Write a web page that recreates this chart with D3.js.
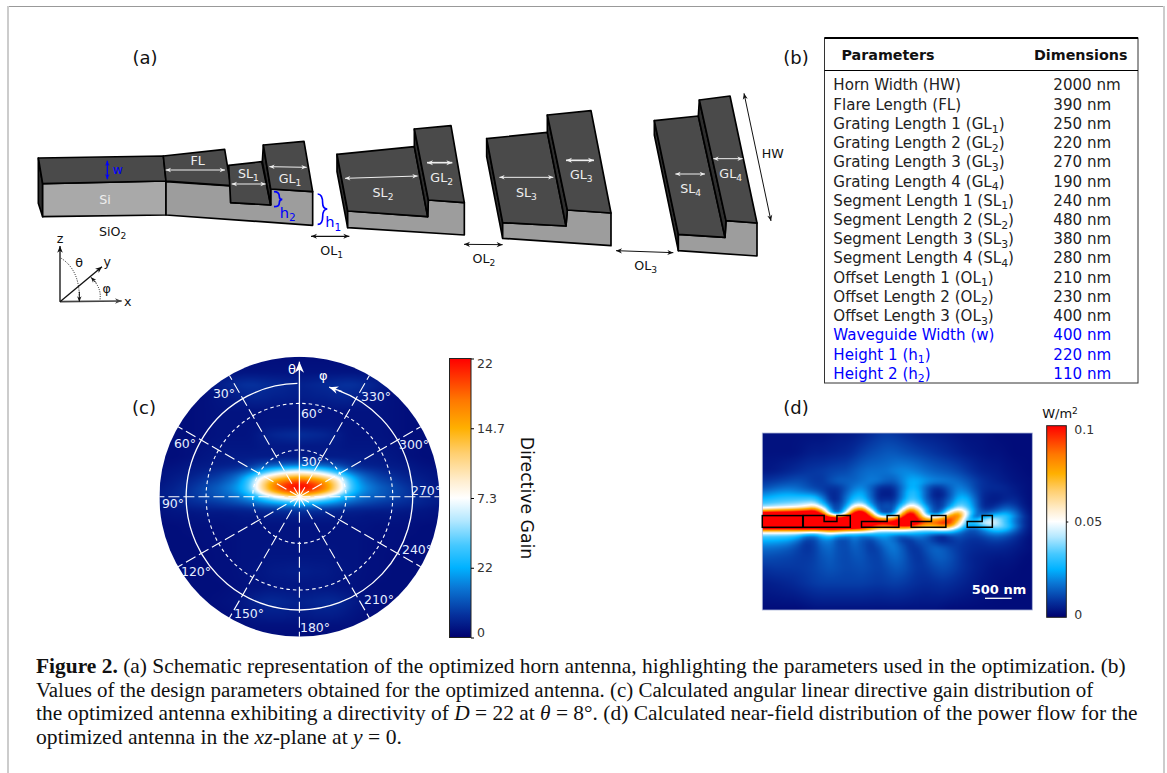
<!DOCTYPE html>
<html lang="en">
<head>
  <meta charset="UTF-8">
  <title>Figure 2</title>
  <script src="https://d3js.org/d3.v7.min.js"></script>
  <style>
    html, body { margin: 0; background: #fff; }
    svg { display: block; font-family: "DejaVu Sans", sans-serif; }
  </style>
</head>
<body>
  <svg width="1167" height="773"></svg>
  <script>
    // table (b)
    const paramNames = ["Horn Width (HW)", "Flare Length (FL)", "Grating Length 1 (GL_1)", "Grating Length 2 (GL_2)",
      "Grating Length 3 (GL_3)", "Grating Length 4 (GL_4)", "Segment Length 1 (SL_1)", "Segment Length 2 (SL_2)",
      "Segment Length 3 (SL_3)", "Segment Length 4 (SL_4)", "Offset Length 1 (OL_1)", "Offset Length 2 (OL_2)",
      "Offset Length 3 (OL_3)", "Waveguide Width (w)", "Height 1 (h_1)", "Height 2 (h_2)"];
    const paramValues = [2000, 390, 250, 220, 270, 190, 240, 480, 380, 280, 210, 230, 400, 400, 220, 110];
    const blueFrom = 13;

    // colour map, shared by both colour bars
    const mapStops = [0, .08, .18, .25, .33, .42, .5, .56, .66, .75, .85, .92, 1];
    const mapColors = ["#00006e", "#05309c", "#0a78d6", "#00b2ff", "#45c8ff", "#b4e8ff", "#ffffff", "#ffeed0",
      "#ffcf70", "#ffb000", "#ff7800", "#ff4000", "#ff0000"];

    const gainTicks = [0, .25, .5, .75, 1];
    const gainTickLabels = ["0", "22", "7.3", "14.7", "22"];
    const gainDy = [-140, -125, -112, -100, -85, -72, -62, -50, -40, -34, -30, -26, -22, -18, -14, -10, -6, -2, 2, 6, 10, 14, 20, 30, 45, 60, 75, 90, 105, 118, 130, 140];
    const gainDx = [0, 8, 16, 24, 32, 40, 46, 52, 58, 66, 80, 95, 110, 125, 140];
    const gainRows = [
      [.5, .5, .5, .5, .5, .5, .5, .5, .5, .5, .5, .5, .5, .5, .5],
      [.7, .7, .7, .7, .7, .7, .7, .7, .7, .7, .7, .7, .6, .5, .5],
      [1.2, 1.3, 1.4, 1.5, 1.6, 1.7, 1.8, 1.8, 1.7, 1.5, 1.1, .7, .5, .5, .5],
      [1.1, 1.1, 1.2, 1.2, 1.3, 1.4, 1.4, 1.3, 1.2, 1, .8, .6, .5, .5, .5],
      [.7, .7, .7, .7, .7, .7, .7, .7, .7, .7, .7, .6, .5, .5, .5],
      [.8, .8, .8, .8, .8, .7, .7, .7, .7, .7, .7, .6, .5, .5, .5],
      [1.7, 1.6, 1.5, 1.4, 1.2, 1, .8, .7, .7, .7, .7, .6, .5, .5, .5],
      [.9, .9, .9, .9, .9, .9, .8, .8, .8, .8, .8, .7, .6, .5, .5],
      [1, 1, 1, 1, 1, 1, 1, 1, 1, 1, .9, .8, .6, .5, .5],
      [2.5, 2.5, 2.4, 2.3, 2.1, 1.9, 1.6, 1.4, 1.2, 1.1, 1, .9, .8, .6, .5],
      [5, 4.9, 4.6, 4.2, 3.6, 3, 2.4, 2, 1.7, 1.4, 1.2, 1, .9, .7, .6],
      [10, 9.6, 8.8, 7.8, 6.5, 5, 4, 3.2, 2.6, 2.1, 1.6, 1.2, 1, .8, .7],
      [14, 13.6, 12.8, 11.6, 10, 8, 6, 4.8, 3.8, 2.9, 2, 1.5, 1.1, .9, .7],
      [18, 17.6, 16.8, 15.5, 13.5, 11, 8.3, 6.4, 4.8, 3.5, 2.4, 1.8, 1.3, 1, .7],
      [21, 20.6, 19.6, 18, 15.6, 12.2, 9.2, 7, 5.3, 4, 2.8, 2.1, 1.5, 1.1, .8],
      [22, 21.6, 20.6, 18.8, 16, 12.5, 9.6, 7.2, 5.6, 4.4, 3.2, 2.4, 1.7, 1.2, .9],
      [21, 20.6, 19.6, 17.8, 15, 11.8, 9, 6.8, 5.4, 4.3, 3.2, 2.5, 1.8, 1.3, 1],
      [17, 16.4, 15, 13, 11, 8.5, 6.6, 5.4, 4.6, 3.8, 3.1, 2.4, 1.8, 1.3, 1],
      [11.5, 11, 10, 8.8, 7.4, 6, 5, 4.4, 3.8, 3.2, 2.7, 2.2, 1.7, 1.3, 1],
      [6.5, 6.3, 5.9, 5.4, 4.8, 4.2, 3.6, 3.2, 2.9, 2.5, 2.1, 1.8, 1.5, 1.2, 1],
      [3.5, 3.4, 3.3, 3.1, 2.9, 2.6, 2.3, 2.1, 1.9, 1.8, 1.6, 1.4, 1.2, 1, .8],
      [1.8, 1.8, 1.7, 1.6, 1.5, 1.4, 1.3, 1.2, 1.2, 1.1, 1, 1, .9, .8, .7],
      [1, 1, 1, 1, 1, .9, .9, .9, .9, .8, .8, .8, .7, .7, .6],
      [.7, .7, .7, .7, .7, .7, .7, .7, .7, .7, .6, .6, .6, .5, .5],
      [.7, .7, .7, .7, .7, .7, .7, .7, .7, .6, .6, .6, .5, .5, .5],
      [.8, .8, .8, .8, .8, .7, .7, .7, .7, .6, .6, .5, .5, .5, .5],
      [1.1, 1.1, 1, 1, .9, .8, .8, .7, .7, .6, .6, .5, .5, .5, .5],
      [.8, .8, .8, .8, .8, .7, .7, .7, .6, .6, .5, .5, .5, .5, .5],
      [1.2, 1.3, 1.4, 1.5, 1.5, 1.4, 1.2, 1, .9, .7, .6, .5, .5, .5, .5],
      [1, 1, 1.1, 1.1, 1.1, 1, .9, .8, .7, .6, .5, .5, .5, .5, .5],
      [.6, .6, .6, .6, .6, .6, .6, .6, .5, .5, .5, .5, .5, .5, .5],
      [.5, .5, .5, .5, .5, .5, .5, .5, .5, .5, .5, .5, .5, .5, .5]
    ];
    const thetaTicks = [30, 60];
    const phiSpokes = [30, 60, 90, 120, 150, 180, 210, 240, 270, 300, 330];
    const phiLabels = [["30°", 224, 393], ["330°", 376, 396], ["60°", 312, 413], ["60°", 185, 443], ["300°", 414, 444],
      ["30°", 312, 461], ["270°", 426, 490], ["90°", 173, 503], ["240°", 417, 549], ["120°", 196, 571],
      ["210°", 379, 599], ["150°", 249, 613], ["180°", 315, 627]];

    // (d) power flow in units of 0.01 W/m², one row per field height, columns 8 px apart
    const flowY = [0, 20, 38, 48, 55, 60, 64, 68, 72, 75, 78, 81, 85, 88, 92, 96, 99, 102, 106, 110, 116, 124, 135, 150, 177];
    const flowRows = [
      [.3, .3, .3, .3, .3, .3, .3, .3, .3, .4, .4, .4, .5, .6, .8, .9, .9, .8, .7, .6, .5, .5, .5, .4, .4, .3, .3, .3, .3, .2, .2, .2, .2, .2, .2],
      [.3, .3, .3, .3, .3, .4, .5, .5, .5, .6, .6, .7, .9, 1.1, 1.2, 1.3, 1.4, 1.3, 1.2, 1.1, 1, .9, .8, .7, .6, .5, .4, .4, .3, .3, .3, .2, .2, .2, .2],
      [.4, .4, .5, .6, .7, .8, .9, .9, 1, 1.1, 1.1, 1.2, 1.5, 1.6, 1.7, 1.6, 1.8, 2, 2, 1.9, 1.7, 1.5, 1.4, 1.3, 1.2, 1, .8, .6, .5, .5, .4, .3, .3, .2, .2],
      [.8, .9, 1, 1.1, 1.2, 1.2, 1, .8, 1, 1.4, 1.5, 1.4, 1.6, 1.8, 1.9, 1.6, 1.3, 1.5, 2.4, 2.6, 2.3, 2, 1.9, 1.8, 1.7, 1.5, 1.2, .9, .7, .6, .5, .4, .3, .3, .2],
      [1.2, 1.4, 1.6, 1.7, 1.7, 1.5, 1.2, 1, .9, .7, 1, 1.6, 2.1, 2, 1, .6, .6, 1, 2.4, 2.8, 2, .8, .7, 1.1, 1.9, 2, 1.4, .9, .7, .7, .7, .5, .4, .3, .2],
      [1.8, 2, 2.2, 2.3, 2.2, 2, 1.9, 1.6, .8, .5, .9, 2, 2.6, 2.4, .8, .4, .4, .8, 2.9, 3.2, 2.2, .6, .4, .7, 2, 2.4, 1.8, .9, .6, .5, .6, .6, .4, .3, .2],
      [2.3, 2.5, 2.7, 2.8, 2.8, 2.8, 2.8, 2.7, .9, .4, 1, 2.4, 2.9, 2.6, .7, .5, .6, .7, 3, 3.2, 2.2, .5, .6, .6, 2.2, 2.8, 2.2, .9, .5, .5, .5, .7, .5, .3, .2],
      [2.8, 3, 3.2, 3.3, 3.4, 3.5, 3.6, 3.6, 1.1, .5, .8, 2.8, 3.6, 3.2, .7, .8, .9, .8, 3.6, 3.8, 2.6, .5, 1.1, .7, 2.6, 3.2, 2.6, .9, .5, .4, .6, .9, .6, .3, .2],
      [3.5, 3.7, 3.9, 4, 4.2, 4.4, 5, 5.2, 1.5, 1.3, .6, 3.5, 5.8, 4, .8, 1.3, 1.3, .9, 4.8, 5, 3, .8, 1, .8, 3.4, 3.8, 2.8, .9, .5, .6, 1.1, 1.2, .7, .3, .2],
      [4.5, 4.8, 5, 5.2, 5.5, 5.8, 6.6, 8, 2.2, 1, .6, 4.5, 8.8, 6, 1, 1.2, 1.2, 1.2, 7.2, 7, 3.8, 1.3, .8, 1.2, 4.4, 4.4, 3, 1, .6, .8, 1.4, 1.6, .9, .4, .2],
      [8, 8.5, 9, 9.2, 9.6, 10, 10.5, 11, 4, .8, .8, 7, 11, 9.5, 1.6, 1, 1, 2, 9.5, 9, 4.6, 1.2, .7, 2.5, 7, 6, 3, 1.2, 1, 1.3, 2, 2, 1.1, .4, .2],
      [12, 12, 12, 12, 12, 12, 12.5, 12.5, 7, .7, 1.5, 10, 13, 12, 4.5, .8, .9, 3.5, 12, 11, 5.2, .9, 1.2, 4, 9.5, 8, 2.4, 1.2, 1.6, 2, 2.8, 2.6, 1.3, .5, .2],
      [14, 14, 14, 14, 14, 14, 14, 14, 13, 11, 11, 13, 14, 13, 8, 6, 6.5, 7.5, 13, 12, 6.5, 6, 6.5, 8, 11, 6, 1.2, 1.5, 3.5, 4, 4, 2.5, 1.6, .6, .2],
      [14, 14, 14, 14, 14, 14, 14, 14, 14, 14, 14, 14, 14, 13, 11, 10, 10.5, 11, 13, 12, 9, 8.5, 9, 10, 9.5, 4, 2.5, 3.5, 5.5, 4.5, 3.5, 2.2, 1.1, .6, .2],
      [14, 14, 14, 14, 14, 14, 14, 14, 14, 14, 14, 14, 13, 12, 10, 9.5, 10, 11, 12, 11, 8, 8, 8.5, 10, 8, 3.5, 2, 2.8, 4.5, 4.5, 4, 2.8, 1.5, .6, .2],
      [10, 10, 10, 10, 10, 10.5, 10.5, 10.5, 11, 10.5, 10, 9.6, 10, 9, 7, 6, 6.4, 6.4, 6.2, 5.6, 5, 5, 5.5, 5.5, 4.5, 2.2, 1.2, 1.4, 2.6, 3.2, 3.4, 2.4, 1.2, .5, .2],
      [5.5, 5.5, 5.5, 5.5, 5.5, 5.5, 5, 4.6, 6, 6.5, 6, 5, 5, 4.8, 3.6, 3.2, 3.4, 3.8, 3.4, 3, 2.7, 2.8, 3, 3, 2.5, 1.4, 1, 1.2, 2, 2.4, 2.4, 1.7, 1, .5, .2],
      [3.6, 3.6, 3.6, 3.5, 3.4, 2.8, 1.5, 2.5, 3.8, 3.6, 1.6, 3, 1.8, 2.2, 2.4, 2.6, 2.4, 1.4, 2, 2.2, 2, 1.6, .6, 1, 1.6, 1.2, 1, 1, 1.4, 1.7, 1.6, 1.2, .8, .4, .2],
      [2.8, 2.8, 2.7, 2.6, 2.4, 1.6, .6, 1.6, 2.5, 1.8, .6, 1.8, 1.9, .8, 1.5, 2, 2, 1.1, .6, 1.4, 1.6, 1.1, .5, .5, 1.2, 1, .8, .8, 1, 1.2, 1.1, .9, .6, .3, .2],
      [2.2, 2.2, 2.1, 2, 1.7, 1, .6, 1.4, 2, 1.6, .7, 1.5, 1.8, .7, 1.1, 1.7, 2, 1.6, .7, .9, 1.4, 1.3, 1, .7, 1, .9, .7, .7, .8, .9, .8, .7, .5, .3, .2],
      [1.6, 1.6, 1.5, 1.4, 1.2, .9, .7, 1.2, 1.7, 1.5, .9, 1.3, 1.6, 1, .8, 1.3, 1.9, 1.8, 1, .7, 1, 1.5, 1.6, 1.3, 1, .8, .7, .6, .6, .6, .6, .5, .4, .3, .2],
      [1.2, 1.2, 1.1, 1.1, 1, .9, .9, 1.1, 1.5, 1.4, 1, 1.2, 1.4, 1.2, .9, 1.1, 1.6, 1.7, 1.2, .8, .8, 1.3, 1.5, 1.4, 1.1, .8, .6, .5, .5, .4, .4, .4, .3, .2, .2],
      [.8, .9, .9, .9, .9, .9, 1, 1.1, 1.3, 1.3, 1.1, 1.1, 1.2, 1.2, 1, 1, 1.3, 1.4, 1.2, .9, .8, 1, 1.2, 1.2, 1, .8, .6, .5, .4, .3, .3, .3, .2, .2, .2],
      [.5, .5, .6, .6, .7, .8, .9, 1, 1, 1, 1, 1, 1, 1, .9, .9, 1, 1, .9, .8, .7, .7, .8, .8, .7, .6, .5, .4, .3, .3, .2, .2, .2, .2, .2],
      [.2, .2, .2, .2, .2, .2, .3, .3, .3, .3, .3, .3, .3, .3, .3, .3, .3, .3, .3, .3, .3, .3, .3, .2, .2, .2, .2, .2, .2, .2, .2, .2, .2, .2, .2]
    ];
    const flowTicks = [0, .05, .1];

    // (a) schematic faces; each block has its own origin in a 3x drawing space
    const DARK = "#4a4a4a", SIDE = "#2e2e2e", GREY = "#9d9d9d", LIGHT = "#a9a9a9";
    const schematic = [
      { origin: [20, 40], faces: [
        [SIDE, [[55, 354], [68, 431], [68, 530], [55, 490]]],
        [LIGHT, [[68, 431], [438, 423], [438, 525], [68, 530]]],
        [DARK, [[55, 354], [430, 348], [438, 423], [68, 431]]],
        [GREY, [[438, 425], [632, 438], [632, 488], [752, 495], [752, 447], [878, 455], [878, 556], [438, 525]]],
        [DARK, [[430, 348], [614, 328], [632, 437], [438, 423]]],
        [DARK, [[626, 376], [725, 365], [752, 495], [632, 488]]],
        [SIDE, [[730, 315], [727, 365], [752, 495], [752, 447]]],
        [DARK, [[730, 315], [852, 304], [878, 455], [752, 447]]]
      ] },
      { origin: [325, 115], faces: [
        [SIDE, [[36, 118], [68, 288], [68, 338], [36, 170]]],
        [GREY, [[68, 288], [308, 305], [310, 255], [418, 263], [418, 360], [68, 338]]],
        [DARK, [[36, 118], [268, 95], [308, 305], [68, 288]]],
        [SIDE, [[268, 42], [268, 95], [308, 305], [310, 255]]],
        [DARK, [[268, 42], [378, 32], [418, 263], [310, 255]]]
      ] },
      { origin: [400, 80], faces: [
        [SIDE, [[260, 176], [308, 428], [308, 475], [260, 230]]],
        [GREY, [[308, 428], [498, 438], [502, 390], [633, 399], [633, 497], [308, 475]]],
        [DARK, [[260, 176], [442, 157], [498, 438], [308, 428]]],
        [SIDE, [[442, 105], [442, 157], [498, 438], [502, 390]]],
        [DARK, [[442, 105], [573, 92], [633, 399], [502, 390]]],
        [SIDE, [[763, 122], [835, 463], [835, 512], [763, 165]]],
        [GREY, [[835, 463], [975, 472], [978, 422], [1071, 429], [1071, 528], [835, 512]]],
        [DARK, [[763, 122], [895, 108], [975, 472], [835, 463]]],
        [SIDE, [[898, 60], [895, 108], [975, 472], [978, 422]]],
        [DARK, [[898, 60], [990, 48], [1071, 429], [978, 422]]]
      ] }
    ];

    const WHITE = "#eeeeee", BLACK = "#111111", BLUE = "#0000ff";
    const schematicLabels = [
      [0, "FL", 533, 360, WHITE], [0, "Si", 255, 478, WHITE], [0, "SL_1", 685, 400, WHITE], [0, "GL_1", 810, 415, WHITE],
      [0, "w", 293, 388, BLUE], [0, "SiO_2", 278, 575, BLACK], [0, "OL_1", 935, 632, BLACK],
      [0, "h_2", 803, 518, BLUE], [0, "h_1", 940, 546, BLUE],
      [0, "z", 120, 595, BLACK], [0, "y", 262, 665, BLACK], [0, "x", 323, 785, BLACK], [0, "θ", 177, 668, BLACK], [0, "φ", 260, 745, BLACK],
      [1, "SL_2", 174, 231, WHITE], [1, "GL_2", 350, 187, WHITE],
      [2, "SL_3", 379, 336, WHITE], [2, "GL_3", 544, 283, WHITE], [2, "SL_4", 872, 325, WHITE], [2, "GL_4", 992, 279, WHITE],
      [2, "HW", 1118, 221, BLACK], [2, "OL_2", 252, 536, BLACK], [2, "OL_3", 737, 557, BLACK]
    ];
    // block, from, to, colour, line width, head size
    const schematicArrows = [
      [0, [437, 390], [615, 390], WHITE, 3, 16], [0, [635, 432], [737, 432], WHITE, 3, 16], [0, [748, 380], [860, 382], WHITE, 3, 16],
      [0, [262, 362], [262, 418], BLUE, 4, 16], [0, [873, 589], [988, 589], BLACK, 4, 18],
      [1, [60, 190], [278, 183], WHITE, 3, 16], [1, [306, 143], [382, 143], WHITE, 5, 18],
      [2, [298, 292], [460, 292], WHITE, 3, 16], [2, [498, 241], [582, 241], WHITE, 5, 18],
      [2, [826, 282], [915, 282], WHITE, 3, 16], [2, [940, 236], [1028, 236], WHITE, 3, 16],
      [2, [1032, 40], [1113, 423], BLACK, 3, 18], [2, [192, 493], [308, 494], BLACK, 3, 18], [2, [648, 512], [820, 518], BLACK, 3, 18]
    ];

    const captionLines = [
      { end: 1126, parts: [["Figure 2.", "b"], [" (a) Schematic representation of the optimized horn antenna, highlighting the parameters used in the optimization. (b)"]] },
      { end: 1094, parts: [["Values of the design parameters obtained for the optimized antenna. (c) Calculated angular linear directive gain distribution of"]] },
      { end: 1138, parts: [["the optimized antenna exhibiting a directivity of "], ["D", "i"], [" = 22 at "], ["θ", "i"], [" = 8°. (d) Calculated near-field distribution of the power flow for the"]] },
      { end: 402, parts: [["optimized antenna in the "], ["xz", "i"], ["-plane at "], ["y", "i"], [" = 0."]] }
    ];

    const svg = d3.select("svg");
    const pathOf = d3.line();

    // text with _n subscripts as tspans
    function rich(sel, str, size) {
      const [main, sub] = str.split(/_(?=\d$|\d\))/);
      if (sub === undefined) { sel.text(str); return; }
      const m = sub.match(/^(\d)(.*)$/);
      sel.append("tspan").text(main);
      sel.append("tspan").attr("font-size", size * .72).attr("dy", size * .24).text(m[1]);
      if (m[2]) sel.append("tspan").attr("dy", -size * .24).text(m[2]);
    }

    function arrow(g, a, b, color, w, head, both) {
      const ang = Math.atan2(b[1] - a[1], b[0] - a[0]);
      const hd = (p, t) => {
        const c = Math.cos(t), s = Math.sin(t);
        return pathOf([p,
          [p[0] - head * c + head * .42 * s, p[1] - head * s - head * .42 * c],
          [p[0] - head * .7 * c, p[1] - head * .7 * s],
          [p[0] - head * c - head * .42 * s, p[1] - head * s + head * .42 * c]]) + "Z";
      };
      g.append("line").attr("x1", a[0]).attr("y1", a[1]).attr("x2", b[0]).attr("y2", b[1])
        .attr("stroke", color).attr("stroke-width", w);
      g.append("path").attr("d", hd(b, ang)).attr("fill", color);
      if (both) g.append("path").attr("d", hd(a, ang + Math.PI)).attr("fill", color);
    }

    // frame
    svg.append("rect").attr("x", 7).attr("y", 6).attr("width", 1157).attr("height", 1).attr("fill", "#999");
    svg.append("rect").attr("x", 7).attr("y", 6).attr("width", 2).attr("height", 767).attr("fill", "#ccc");
    svg.append("rect").attr("x", 1163).attr("y", 6).attr("width", 2).attr("height", 767).attr("fill", "#ccc");

    // panel letters
    [["(a)", 145, 58], ["(b)", 796, 58], ["(c)", 144, 408], ["(d)", 796, 408]].forEach(d => {
      svg.append("text").attr("x", d[1]).attr("y", d[2]).attr("dy", ".36em").attr("text-anchor", "middle")
        .attr("font-size", 18).attr("fill", "#111").text(d[0]);
    });

    // (a) schematic
    const blocks = schematic.map(b => {
      const g = svg.append("g").attr("transform", `translate(${b.origin[0]},${b.origin[1]}) scale(${1 / 3})`);
      b.faces.forEach(f => {
        g.append("path").attr("d", pathOf(f[1]) + "Z").attr("fill", f[0])
          .attr("stroke", "#000").attr("stroke-width", 5).attr("stroke-linejoin", "round");
      });
      return g;
    });
    schematicArrows.forEach(a => arrow(blocks[a[0]], a[1], a[2], a[3], a[4], a[5], true));
    schematicLabels.forEach(l => {
      const size = l[4] === BLUE && l[1] !== "w" ? 44 : 38;
      rich(blocks[l[0]].append("text").attr("x", l[2]).attr("y", l[3]).attr("dy", ".36em").attr("text-anchor", "middle")
        .attr("font-size", size).attr("fill", l[4]), l[1], size);
    });
    // height braces and the small axes
    const ga = blocks[0];
    ["M762,455 Q778,455 778,470 Q778,478 787,478 Q778,478 778,488 Q778,500 762,500",
      "M893,462 Q908,462 908,490 Q908,507 922,507 Q908,507 908,530 Q908,553 893,553"].forEach(d => {
      ga.append("path").attr("d", d).attr("fill", "none").attr("stroke", BLUE).attr("stroke-width", 5);
    });
    arrow(ga, [120, 785], [120, 618], BLACK, 4, 20);
    arrow(ga, [120, 785], [305, 783], "#444", 5, 20);
    arrow(ga, [120, 785], [246, 680], BLACK, 4, 20);
    ga.append("path").attr("d", "M124,655 Q178,690 178,772").attr("fill", "none").attr("stroke", BLACK).attr("stroke-width", 3).attr("stroke-dasharray", "3,4");
    ga.append("path").attr("d", "M240,778 Q245,745 218,718").attr("fill", "none").attr("stroke", BLACK).attr("stroke-width", 3).attr("stroke-dasharray", "3,4");
    arrow(ga, [178, 755], [178, 785], BLACK, 3, 16);
    arrow(ga, [228, 728], [213, 712], BLACK, 3, 16);

    // (b) table
    const tableX = 824.5, tableW = 313.5, tableTop = 38, tableBottom = 383;
    const tb = svg.append("g");
    tb.append("rect").attr("x", tableX).attr("y", tableTop).attr("width", tableW).attr("height", tableBottom - tableTop)
      .attr("fill", "none").attr("stroke", "#333").attr("stroke-width", 1);
    tb.append("line").attr("x1", tableX).attr("x2", tableX + tableW).attr("y1", tableTop).attr("y2", tableTop).attr("stroke", "#000").attr("stroke-width", 2);
    tb.append("line").attr("x1", tableX).attr("x2", tableX + tableW).attr("y1", 70.5).attr("y2", 70.5).attr("stroke", "#000").attr("stroke-width", 1);
    tb.append("text").attr("x", 841.5).attr("y", 54.7).attr("dy", ".36em").attr("font-size", 14.3).attr("font-weight", "bold").attr("fill", "#111").text("Parameters");
    tb.append("text").attr("x", 1034).attr("y", 54.7).attr("dy", ".36em").attr("font-size", 14.3).attr("font-weight", "bold").attr("fill", "#111").text("Dimensions");
    const rowY = d3.scaleLinear().domain([0, paramNames.length - 1]).range([85, 373.3]);
    paramNames.forEach((name, i) => {
      const col = i >= blueFrom ? BLUE : "#222";
      rich(tb.append("text").attr("x", 833.3).attr("y", rowY(i)).attr("dy", ".36em").attr("font-size", 15.1).attr("fill", col), name, 15.1);
      tb.append("text").attr("x", 1053.3).attr("y", rowY(i)).attr("dy", ".36em").attr("font-size", 15.1).attr("fill", col).text(paramValues[i] + " nm");
    });

    // paints a value grid into an image through the colour scale; rx, ry soften the grid steps
    function heatImage(w, h, valueAt, color, rx, ry) {
      const cv = document.createElement("canvas");
      cv.width = w; cv.height = h;
      const ctx = cv.getContext("2d");
      const im = ctx.createImageData(w, h);
      for (let y = 0; y < h; y++) for (let x = 0; x < w; x++) {
        let sum = 0;
        for (let a = -2; a <= 2; a++) for (let b = -2; b <= 2; b++) {
          sum += valueAt(x + .5 + a * rx / 2, y + .5 + b * ry / 2);
        }
        const c = d3.rgb(color(sum / 25));
        const k = (y * w + x) * 4;
        im.data[k] = c.r; im.data[k + 1] = c.g; im.data[k + 2] = c.b; im.data[k + 3] = 255;
      }
      ctx.putImageData(im, 0, 0);
      return cv.toDataURL();
    }

    function bilinear(rows, i, j) {
      const i0 = Math.floor(i), j0 = Math.floor(j);
      const i1 = Math.min(i0 + 1, rows.length - 1), j1 = Math.min(j0 + 1, rows[0].length - 1);
      const fi = i - i0, fj = j - j0;
      return (rows[i0][j0] * (1 - fj) + rows[i0][j1] * fj) * (1 - fi) + (rows[i1][j0] * (1 - fj) + rows[i1][j1] * fj) * fi;
    }

    function colorBar(id, x, w, yTop, yBottom) {
      const grad = svg.append("linearGradient").attr("id", id).attr("x1", 0).attr("x2", 0).attr("y1", 1).attr("y2", 0);
      mapStops.forEach((s, i) => grad.append("stop").attr("offset", s).attr("stop-color", mapColors[i]));
      svg.append("rect").attr("x", x).attr("y", yTop).attr("width", w).attr("height", yBottom - yTop)
        .attr("fill", `url(#${id})`).attr("stroke", "#222").attr("stroke-width", 1);
    }

    // (c) disc
    const cx = 299.4, cy = 496.7, R = 140;
    const theta = d3.scaleLinear().domain([0, 90]).range([0, R]);
    const gainColor = d3.scaleLinear().domain(mapStops.map(s => s * 22)).range(mapColors).clamp(true);
    const dyIndex = d3.scaleLinear().domain(gainDy).range(d3.range(gainDy.length)).clamp(true);
    const dxIndex = d3.scaleLinear().domain(gainDx).range(d3.range(gainDx.length)).clamp(true);
    svg.append("clipPath").attr("id", "disc").append("circle").attr("cx", cx).attr("cy", cy).attr("r", R);
    svg.append("image").attr("x", cx - R).attr("y", cy - R).attr("width", 2 * R).attr("height", 2 * R)
      .attr("clip-path", "url(#disc)")
      .attr("href", heatImage(2 * R, 2 * R, (x, y) => bilinear(gainRows, dyIndex(y - R), dxIndex(Math.abs(x - R))), gainColor, 4, 2));

    const gp = svg.append("g").attr("transform", `translate(${cx},${cy})`);
    const OVER = "#ffffff";
    thetaTicks.forEach(t => {
      gp.append("circle").attr("r", theta(t)).attr("fill", "none").attr("stroke", OVER).attr("stroke-width", 1.1).attr("stroke-dasharray", "3.5,3");
    });
    phiSpokes.forEach(p => {
      const a = p * Math.PI / 180;
      gp.append("line").attr("x2", R * Math.sin(a)).attr("y2", -R * Math.cos(a))
        .attr("stroke", OVER).attr("stroke-width", 1.1).attr("stroke-dasharray", "11,4");
    });
    // phi annotation circle: gap next to the theta arrow
    const phiArc = d3.arc().innerRadius(theta(72.8)).outerRadius(theta(72.8));
    const gapStart = 20 * Math.PI / 180;
    gp.append("path").attr("d", phiArc({ startAngle: gapStart, endAngle: 2 * Math.PI - 1 * Math.PI / 180 }))
      .attr("fill", "none").attr("stroke", OVER).attr("stroke-width", 1.3);
    const arcTip = [113.3 * Math.sin(20 * Math.PI / 180), -113.3 * Math.cos(20 * Math.PI / 180)];
    arrow(gp, [arcTip[0] + 4, arcTip[1] + 1.5], [arcTip[0] - 9, arcTip[1] - 3], OVER, 1.3, 9);
    arrow(gp, [0, 0], [0, -135], OVER, 1.3, 11);
    gp.append("text").attr("x", -7.5).attr("y", -127.7).attr("dy", ".36em").attr("text-anchor", "middle").attr("font-size", 13).attr("fill", OVER).text("θ");
    gp.append("text").attr("x", 24).attr("y", -121.7).attr("dy", ".36em").attr("text-anchor", "middle").attr("font-size", 13).attr("fill", OVER).text("φ");
    phiLabels.forEach(d => {
      svg.append("text").attr("x", d[1]).attr("y", d[2]).attr("dy", ".36em").attr("text-anchor", "middle")
        .attr("font-size", 12.5).attr("fill", "#e6eeff").text(d[0]);
    });

    colorBar("barC", 449.5, 21.5, 358.5, 637.5);
    const gainY = d3.scaleLinear().domain([0, 1]).range([637.5, 358.5]);
    const gainAxis = svg.append("g").attr("transform", "translate(471,0)")
      .call(d3.axisRight(gainY).tickValues(gainTicks).tickFormat((d, i) => gainTickLabels[i]).tickSize(3).tickPadding(3));
    gainAxis.select(".domain").remove();
    gainAxis.selectAll("text").attr("font-size", 12.5).attr("font-family", "DejaVu Sans").attr("fill", "#333");
    gainAxis.selectAll(".tick").filter(d => d === 0).select("text").attr("dy", "-.05em");
    gainAxis.selectAll(".tick").filter(d => d === 1).select("text").attr("dy", ".75em");
    svg.append("text").attr("transform", "translate(527,498) rotate(90)").attr("text-anchor", "middle").attr("dy", ".36em")
      .attr("font-size", 17.3).attr("fill", "#111").text("Directive Gain");

    // (d) near field
    const fx = 762.3, fy = 433, fw = 270, fh = 177;
    const flowColor = d3.scaleLinear().domain(mapStops.map(s => s * 10)).range(mapColors).clamp(true);
    const flowRowIndex = d3.scaleLinear().domain(flowY).range(d3.range(flowY.length)).clamp(true);
    const flowColIndex = d3.scaleLinear().domain([0, 272]).range([0, 34]).clamp(true);
    svg.append("image").attr("x", fx).attr("y", fy).attr("width", fw).attr("height", fh)
      .attr("href", heatImage(fw, fh, (x, y) => bilinear(flowRows, flowRowIndex(y), flowColIndex(x)), flowColor, 7, 2.5));
    svg.append("rect").attr("x", fx).attr("y", fy).attr("width", fw).attr("height", fh)
      .attr("fill", "none").attr("stroke", "#aab4d8").attr("stroke-width", .8);

    // antenna outline follows from the table values
    const flareLen = paramValues[1], gratingLens = paramValues.slice(2, 6), segmentLens = paramValues.slice(6, 10),
      offsetLens = paramValues.slice(10, 13), h1 = paramValues[14], h2 = paramValues[15];
    const nmX = d3.scaleLinear().domain([0, 500]).range([803.3, 830]);
    const nmY = d3.scaleLinear().domain([0, h1]).range([527.3, 515.6]);
    const outline = pts => pathOf(pts.map(p => [nmX(p[0]), nmY(p[1])])) + "Z";
    const gOut = svg.append("g").attr("fill", "none").attr("stroke", "#000").attr("stroke-width", 1.5);
    gOut.append("rect").attr("x", fx).attr("y", nmY(h1)).attr("width", nmX(0) - .6 - fx).attr("height", nmY(0) - nmY(h1));
    let x0 = 0;
    segmentLens.forEach((s, i) => {
      const g = gratingLens[i];
      const pts = i === 0
        ? [[0, 0], [0, h1], [flareLen, h1], [flareLen, h1 - h2], [flareLen + s, h1 - h2], [flareLen + s, h1], [flareLen + s + g, h1], [flareLen + s + g, 0]]
        : [[x0, 0], [x0, h2], [x0 + s, h2], [x0 + s, h1], [x0 + s + g, h1], [x0 + s + g, 0]];
      gOut.append("path").attr("d", outline(pts));
      x0 = (i === 0 ? flareLen + s + g : x0 + s + g) + (offsetLens[i] || 0);
    });
    const barRight = 1011.7;
    svg.append("line").attr("x1", nmX(nmX.invert(barRight) - 500)).attr("x2", barRight).attr("y1", 598.3).attr("y2", 598.3)
      .attr("stroke", "#fff").attr("stroke-width", 1.3);
    svg.append("text").attr("x", 999).attr("y", 589).attr("dy", ".36em").attr("text-anchor", "middle")
      .attr("font-size", 13).attr("font-weight", "bold").attr("fill", "#fff").text("500 nm");

    colorBar("barD", 1046.7, 19.6, 425.7, 617.3);
    const flowAxisY = d3.scaleLinear().domain([0, .1]).range([614, 429]);
    const flowAxis = svg.append("g").attr("transform", "translate(1066.3,0)")
      .call(d3.axisRight(flowAxisY).tickValues(flowTicks).tickFormat(d => d).tickSize(2).tickPadding(6));
    flowAxis.select(".domain").remove();
    flowAxis.selectAll("text").attr("font-size", 12.5).attr("font-family", "DejaVu Sans").attr("fill", "#333");
    flowAxis.selectAll(".tick line").attr("stroke-opacity", d => d === .05 ? 1 : 0);
    const wm = svg.append("text").attr("x", 1060).attr("y", 413).attr("dy", ".36em").attr("text-anchor", "middle").attr("font-size", 13).attr("fill", "#111");
    wm.append("tspan").text("W/m");
    wm.append("tspan").attr("font-size", 9).attr("dy", -4).text("2");

    // caption, each line fitted to its measured width
    const capY = [673, 697, 720, 744];
    captionLines.forEach((line, i) => {
      const t = svg.append("text").attr("font-family", "Liberation Serif").attr("font-size", 20).attr("fill", "#111");
      line.parts.forEach(p => {
        const s = t.append("tspan").text(p[0]);
        if (p[1] === "b") s.attr("font-weight", "bold");
        if (p[1] === "i") s.attr("font-style", "italic");
      });
      const k = (line.end - 36) / t.node().getComputedTextLength();
      t.attr("transform", `translate(36,${capY[i]}) scale(${k},1)`);
    });
  </script>
</body>
</html>
